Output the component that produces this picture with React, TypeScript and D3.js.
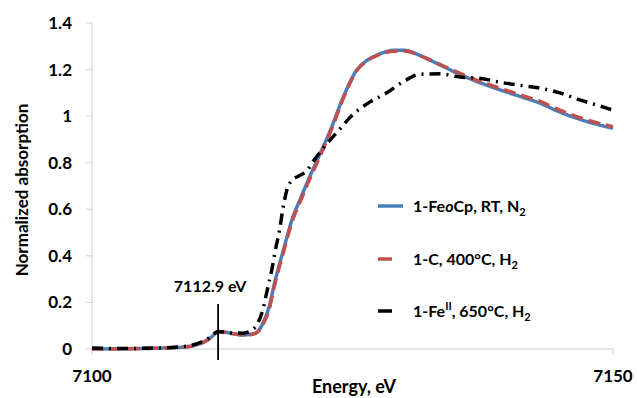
import React from 'react';
import * as d3 from 'd3';

// energy grid (eV) and normalized absorption for each sample
const blueE = [7100, 7103, 7106, 7108, 7109.5, 7110.5, 7111.3, 7112.1, 7112.8, 7113.5, 7114.5, 7115.3, 7115.9, 7116.4, 7117.0, 7117.5, 7118.4, 7119.3, 7120.0, 7120.7, 7121.6, 7123.0, 7124.1, 7125.4, 7126.4, 7127.5, 7128.9, 7130.0, 7131.0, 7132.0, 7133.4, 7135.0, 7136.6, 7138.2, 7139.8, 7141.4, 7143.0, 7144.5, 7146.2, 7148.0, 7150];
const blueY = [0, 0.001, 0.003, 0.006, 0.012, 0.025, 0.045, 0.073, 0.072, 0.066, 0.06, 0.063, 0.075, 0.11, 0.18, 0.28, 0.43, 0.57, 0.645, 0.72, 0.81, 0.953, 1.08, 1.198, 1.24, 1.265, 1.283, 1.283, 1.27, 1.25, 1.22, 1.185, 1.155, 1.128, 1.103, 1.08, 1.056, 1.025, 0.996, 0.97, 0.948];

const redE = blueE;
const redY = [0, 0.001, 0.003, 0.006, 0.012, 0.025, 0.045, 0.073, 0.072, 0.066, 0.06, 0.062, 0.073, 0.105, 0.17, 0.27, 0.42, 0.56, 0.635, 0.71, 0.8, 0.945, 1.075, 1.195, 1.238, 1.263, 1.279, 1.28, 1.268, 1.25, 1.222, 1.19, 1.16, 1.134, 1.11, 1.087, 1.063, 1.033, 1.003, 0.977, 0.955];

const blackE = [7100, 7103, 7106, 7108, 7109.5, 7110.5, 7111.3, 7112.1, 7112.8, 7113.5, 7114.5, 7115.3, 7115.9, 7116.4, 7116.8, 7117.3, 7117.6, 7118.0, 7118.3, 7118.7, 7119.2, 7119.8, 7120.6, 7121.3, 7122.2, 7123.7, 7125.0, 7126.5, 7128.3, 7129.8, 7131.5, 7133.4, 7135.3, 7137.2, 7139.1, 7141.0, 7143.0, 7144.9, 7146.8, 7148.4, 7150];
const blackY = [0.004, 0.002, 0.004, 0.008, 0.015, 0.03, 0.05, 0.075, 0.073, 0.069, 0.068, 0.08, 0.11, 0.17, 0.25, 0.35, 0.425, 0.51, 0.597, 0.683, 0.725, 0.742, 0.765, 0.81, 0.863, 0.94, 1.005, 1.056, 1.1, 1.146, 1.18, 1.182, 1.168, 1.163, 1.146, 1.133, 1.12, 1.1, 1.07, 1.048, 1.026];

const yTicks = [0, 0.2, 0.4, 0.6, 0.8, 1, 1.2, 1.4];
const xTicks = [7100, 7150];
const peakE = 7112.1;
const peakLabel = '7112.9 eV';

const FONT = 'Lato, "Open Sans", sans-serif';

export default function App() {
  const x = d3.scaleLinear().domain([7100, 7150]).range([92, 613]);
  const y = d3.scaleLinear().domain([0, 1.4]).range([349, 23]);

  const line = d3.line<[number, number]>()
    .x(d => x(d[0]))
    .y(d => y(d[1]))
    .curve(d3.curveMonotoneX);

  const zip = (e: number[], v: number[]) => e.map((d, i) => [d, v[i]] as [number, number]);
  const axisColor = '#cfcfcf';
  const legendX = 378;

  return (
    <svg width={637} height={398} style={{ position: 'absolute', left: 0, top: 0, background: '#fff' }} fontFamily={FONT} fontWeight="bold">
      {/* axes */}
      <line x1={x(7100)} x2={x(7100)} y1={y(1.4)} y2={y(0)} stroke={axisColor} strokeWidth={1} />
      {yTicks.map(t => (
        <g key={t}>
          <line x1={x(7100) - 6} x2={x(7100)} y1={y(t)} y2={y(t)} stroke={axisColor} />
          <text x={72} y={y(t)} dy="0.35em" textAnchor="end" fontSize={17} fill="#000">{t}</text>
        </g>
      ))}
      <line x1={x(7100)} x2={x(7150)} y1={y(0)} y2={y(0)} stroke={axisColor} />
      {xTicks.map(t => (
        <g key={t}>
          <line x1={x(t)} x2={x(t)} y1={y(0)} y2={y(0) + 6} stroke={axisColor} />
          <text x={x(t)} y={382} textAnchor="middle" fontSize={17} fill="#000">{t}</text>
        </g>
      ))}
      <text x={354} y={393} textAnchor="middle" fontSize={18} fill="#000">Energy, eV</text>
      <text transform="translate(28,190) rotate(-90)" textAnchor="middle" fontSize={17} fill="#000">Normalized absorption</text>

      {/* series */}
      <path d={line(zip(blueE, blueY)) ?? ''} fill="none" stroke="#4a7ebb" strokeWidth={3.5} />
      <path d={line(zip(redE, redY)) ?? ''} fill="none" stroke="#c0504d" strokeWidth={3.5} strokeDasharray="12 6" />
      <path d={line(zip(blackE, blackY)) ?? ''} fill="none" stroke="#000" strokeWidth={3.5} strokeDasharray="11 6 2 6" />

      {/* pre-edge marker */}
      <line x1={x(peakE)} x2={x(peakE)} y1={304} y2={360} stroke="#000" strokeWidth={1.8} />
      <text x={x(peakE) - 8} y={292} textAnchor="middle" fontSize={16} fill="#000">{peakLabel}</text>

      {/* legend */}
      <line x1={legendX} x2={legendX + 25} y1={206} y2={206} stroke="#4a7ebb" strokeWidth={3.5} />
      <text x={413} y={212} fontSize={16} fill="#000">
        1-Fe<tspan fontStyle="italic">o</tspan>Cp, RT, N<tspan fontSize={11} dy={4}>2</tspan>
      </text>
      <line x1={legendX} x2={legendX + 14} y1={259} y2={259} stroke="#c0504d" strokeWidth={3.5} />
      <text x={413} y={265} fontSize={16} fill="#000">
        1-C, 400°C, H<tspan fontSize={11} dy={4}>2</tspan>
      </text>
      <line x1={legendX} x2={legendX + 14} y1={311} y2={311} stroke="#000" strokeWidth={3.5} />
      <text x={413} y={317} fontSize={16} fill="#000">
        1-Fe<tspan fontSize={11} dy={-7}>II</tspan><tspan dy={7}>, 650°C, H</tspan><tspan fontSize={11} dy={4}>2</tspan>
      </text>
    </svg>
  );
}
